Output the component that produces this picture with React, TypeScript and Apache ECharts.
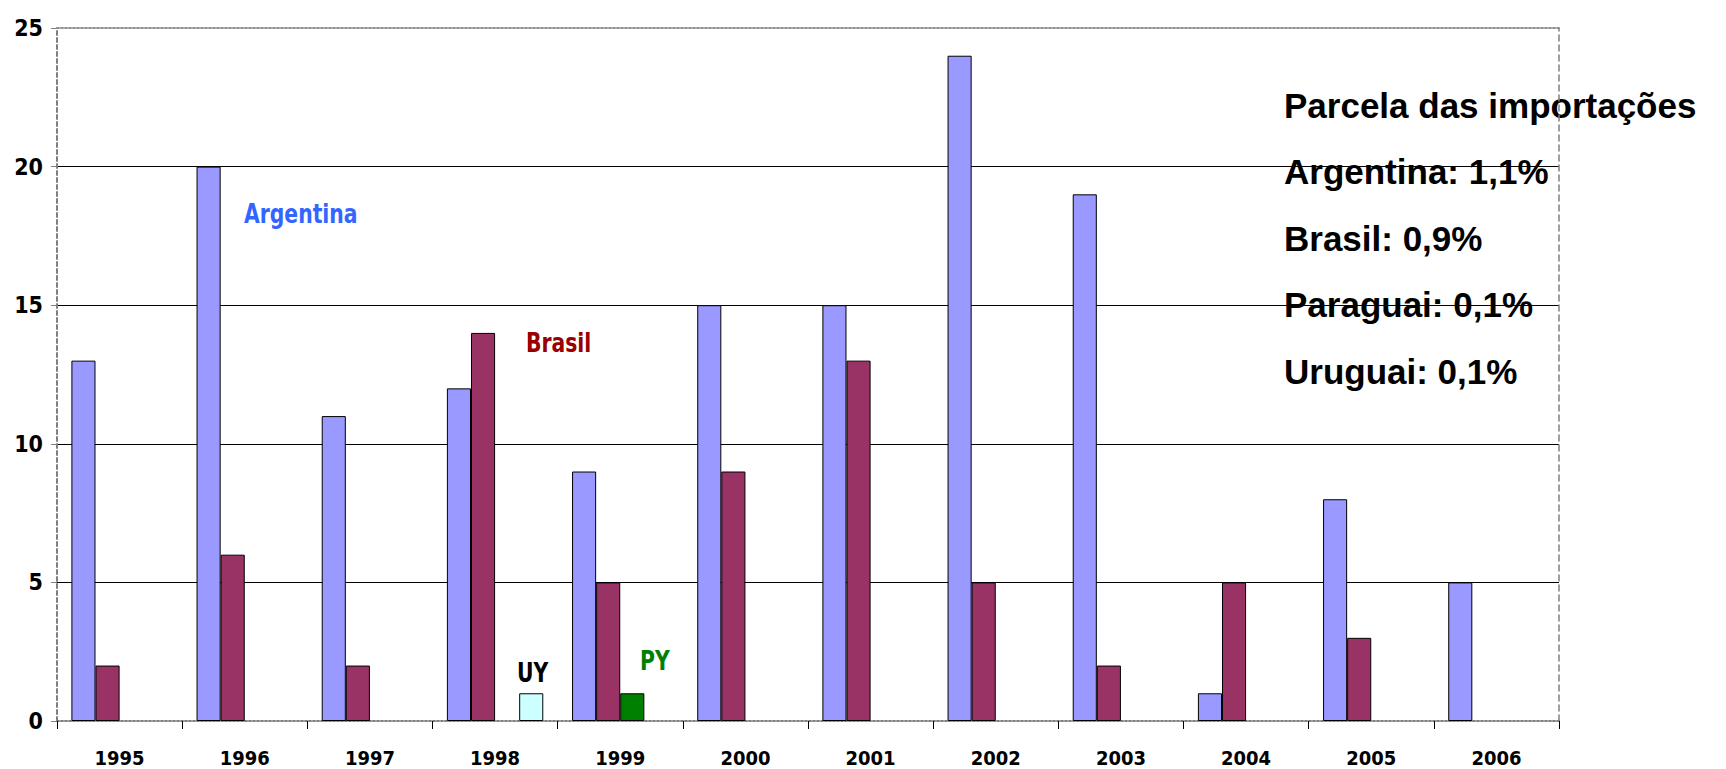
import React, { useEffect, useRef } from "react";
import * as echarts from "echarts";

const years = ["1995", "1996", "1997", "1998", "1999", "2000", "2001", "2002", "2003", "2004", "2005", "2006"];
const argentina = [13, 20, 11, 12, 9, 15, 15, 24, 19, 1, 8, 5];
const brasil = [2, 6, 2, 14, 5, 9, 13, 5, 2, 5, 3, null];
const paraguai = [null, null, null, null, 1, null, null, null, null, null, null, null];
const uruguai = [null, null, null, 1, null, null, null, null, null, null, null, null];
const yTicks = { min: 0, max: 25, interval: 5 };
const shareTitle = "Parcela das importações";
const shareLines = ["Argentina: 1,1%", "Brasil: 0,9%", "Paraguai: 0,1%", "Uruguai: 0,1%"];

const NARROW = "'Liberation Sans Narrow', 'Arial Narrow', 'DejaVu Sans Condensed', sans-serif";
const ARIAL = "'Liberation Sans', Arial, sans-serif";

export default function App() {
  const ref = useRef<HTMLDivElement>(null);
  useEffect(() => {
    document.body.style.margin = "0";
    const chart = echarts.init(ref.current!, null, { renderer: "svg" });
    const barBase = {
      type: "bar" as const,
      barGap: "0%",
      barCategoryGap: "23%",
      itemStyle: { borderColor: "#000", borderWidth: 1 },
    };
    const note = (text: string, x: number, y: number, fill: string) => ({
      type: "text",
      x,
      y,
      scaleX: 0.87,
      style: { text, fill, font: `bold 26px ${NARROW}`, textVerticalAlign: "middle", verticalAlign: "middle" },
    });
    chart.setOption({
      animation: false,
      backgroundColor: "#fff",
      grid: { left: 57, right: 167, top: 28, bottom: 48, containLabel: false },
      xAxis: [
        {
          type: "category",
          data: years,
          position: "bottom",
          axisLine: { show: true, lineStyle: { color: "#808080", width: 2, type: [2, 2] } },
          axisTick: { show: true, length: 8, lineStyle: { color: "#000", width: 1 } },
          axisLabel: { color: "#000", fontFamily: NARROW, fontWeight: "bold", fontSize: 20, margin: 27 },
        },
        {
          type: "category",
          data: years,
          position: "top",
          axisLine: { show: true, onZero: false, lineStyle: { color: "#909090", width: 2, type: [2, 2] } },
          axisTick: { show: false },
          axisLabel: { show: false },
        },
      ],
      yAxis: [
        {
          type: "value",
          min: yTicks.min,
          max: yTicks.max,
          interval: yTicks.interval,
          axisLine: { show: true, onZero: false, lineStyle: { color: "#808080", width: 2, type: [4, 3] } },
          axisTick: { show: true, length: 6, lineStyle: { color: "#808080" } },
          axisLabel: { color: "#000", fontFamily: NARROW, fontWeight: "bold", fontSize: 23, margin: 14 },
          splitLine: {
            show: true,
            lineStyle: { color: ["transparent", "#000", "#000", "#000", "#000", "transparent"], width: 1 },
          },
        },
        {
          type: "value",
          position: "right",
          min: yTicks.min,
          max: yTicks.max,
          interval: yTicks.interval,
          axisLine: { show: true, onZero: false, lineStyle: { color: "#808080", width: 1.5, type: [6, 4] } },
          axisTick: { show: false },
          axisLabel: { show: false },
          splitLine: { show: false },
        },
      ],
      series: [
        { ...barBase, name: "Argentina", data: argentina, itemStyle: { ...barBase.itemStyle, color: "#9999FF" } },
        { ...barBase, name: "Brasil", data: brasil, itemStyle: { ...barBase.itemStyle, color: "#993366" } },
        { ...barBase, name: "Paraguai", data: paraguai, itemStyle: { ...barBase.itemStyle, color: "#008000" } },
        { ...barBase, name: "Uruguai", data: uruguai, itemStyle: { ...barBase.itemStyle, color: "#CCFFFF" } },
      ],
      graphic: [
        note("Argentina", 244, 214, "#3366FF"),
        note("Brasil", 526, 343, "#990000"),
        note("UY", 517, 673, "#000"),
        note("PY", 640, 661, "#008000"),
        { type: "text", left: 1284, top: 88, style: { text: shareTitle, fill: "#000", font: `bold 35px ${ARIAL}` } },
        ...shareLines.map((t, i) => ({
          type: "text",
          left: 1284,
          top: 154 + i * 66.5,
          style: { text: t, fill: "#000", font: `bold 35px ${ARIAL}` },
        })),
      ],
    });
    return () => chart.dispose();
  }, []);
  return <div ref={ref} style={{ width: 1726, height: 769 }} />;
}
